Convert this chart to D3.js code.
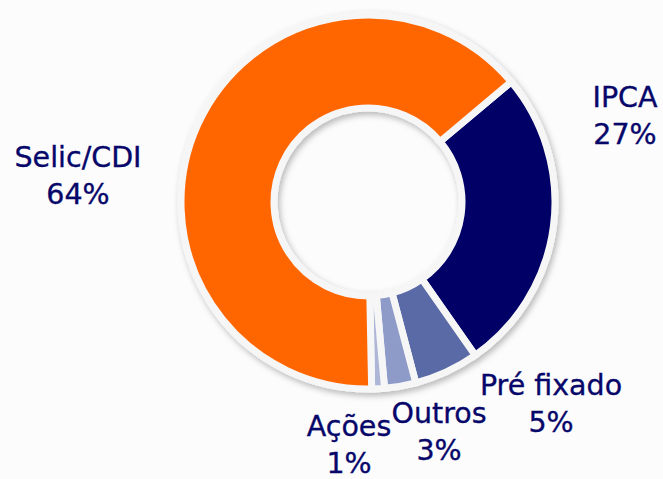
<!DOCTYPE html>
<html>
<head>
<meta charset="utf-8">
<script src="https://cdn.jsdelivr.net/npm/d3@7"></script>
<style>
  html, body { margin: 0; padding: 0; background: #fcfcfd; }
  svg { display: block; }
  .label { font-family: "DejaVu Sans", Verdana, sans-serif; font-size: 28.5px; fill: #07076a; stroke: #07076a; stroke-width: 0.35px; text-anchor: middle; }
</style>
</head>
<body>
<svg id="chart"></svg>
<script>
var categories = ['IPCA', 'Pré fixado', 'Outros', 'Ações', 'Selic/CDI'];
var values = [26.4, 5.6, 2.7, 1.1, 64.2];
var pctLabels = ['27%', '5%', '3%', '1%', '64%'];
var colors = ['#000066', '#5a6aa6', '#8e9bc9', '#aeb6d8', '#ff6600'];

var width = 663;
var height = 479;
var cx = 368;
var cy = 202;
var outerR = 187;
var innerR = 94;

// label anchors (center x, first baseline)
var labelPos = [
	[625, 107],
	[551, 395],
	[439, 423],
	[349, 436],
	[78, 167]
];
var lineGap = 37;

var svg = d3.select('#chart')
	.attr('width', width)
	.attr('height', height);

var defs = svg.append('defs');
var filter = defs.append('filter')
	.attr('id', 'shadow')
	.attr('x', '-20%').attr('y', '-20%')
	.attr('width', '140%').attr('height', '140%');
filter.append('feDropShadow')
	.attr('dx', 2)
	.attr('dy', 3)
	.attr('stdDeviation', 3)
	.attr('flood-color', '#000')
	.attr('flood-opacity', 0.28);

var start = 50 * Math.PI / 180;
var pie = d3.pie()
	.sort(null)
	.startAngle(start)
	.endAngle(start + 2 * Math.PI);

var arc = d3.arc()
	.innerRadius(innerR)
	.outerRadius(outerR);

var arcs = pie(values);

var g = svg.append('g')
	.attr('transform', `translate(${cx}, ${cy})`)
	.attr('filter', 'url(#shadow)');

g.selectAll('path')
	.data(arcs)
	.enter()
	.append('path')
	.attr('d', arc)
	.attr('fill', (d, i) => colors[i])
	.attr('stroke', '#f6f6f6')
	.attr('stroke-width', 7)
	.attr('stroke-linejoin', 'miter');

var labels = svg.selectAll('.label-group')
	.data(categories)
	.enter()
	.append('g');

labels.append('text')
	.attr('class', 'label')
	.attr('x', (d, i) => labelPos[i][0])
	.attr('y', (d, i) => labelPos[i][1])
	.text(d => d);

labels.append('text')
	.attr('class', 'label')
	.attr('x', (d, i) => labelPos[i][0])
	.attr('y', (d, i) => labelPos[i][1] + lineGap)
	.text((d, i) => pctLabels[i]);
</script>
</body>
</html>
